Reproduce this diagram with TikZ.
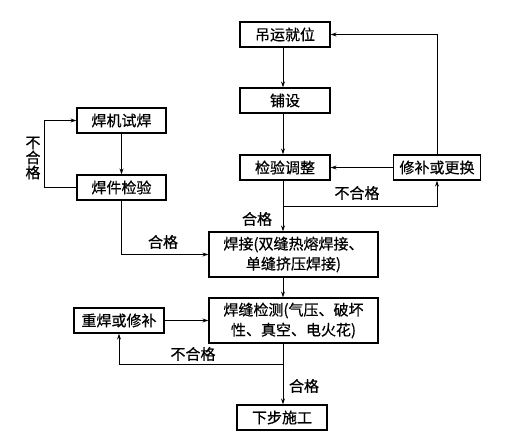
\documentclass[tikz,border=0pt]{standalone}
\usepackage{fontspec}
\setmainfont{Noto Sans CJK SC}[FakeBold=0.6]
\usetikzlibrary{arrows.meta}
\begin{document}
\begin{tikzpicture}[x=1pt,y=-1pt,
  box/.style={draw,line width=1.3pt,inner sep=0pt,minimum height=25pt,font=\fontsize{15}{20}\selectfont},
  tallbox/.style={box,minimum height=45pt,align=center},
  lbl/.style={font=\fontsize{15}{17}\selectfont,inner sep=0pt},
  arr/.style={line width=0.9pt,-{Stealth[length=6pt,width=4pt]}},
  ln/.style={line width=0.9pt}]
\useasboundingbox (0,0) rectangle (510,439);
\coordinate (cx) at (283,0);
\coordinate (lx) at (44,0);
\node[box,minimum width=90pt] (diao) at (285,34.5) {吊运就位};
\node[box,minimum width=90pt] (pu) at (285,100.5) {铺设};
\node[box,minimum width=90pt] (jy) at (285,167.5) {检验调整};
\node[box,minimum width=87pt] (xb) at (437,167.5) {修补或更换};
\node[box,minimum width=89pt] (hjsh) at (121.5,120.5) {焊机试焊};
\node[box,minimum width=89pt] (hjjy) at (121.5,187.5) {焊件检验};
\node[tallbox,minimum width=169pt] (hj) at (293.5,254.5) {焊接(双缝热熔焊接、\\单缝挤压焊接)};
\node[tallbox,minimum width=169pt] (hfjc) at (293.5,320.5) {焊缝检测(气压、破坏\\性、真空、电火花)};
\node[box,minimum width=90pt] (chb) at (119,320.5) {重焊或修补};
\node[box,minimum width=90pt] (xbsg) at (282,417.5) {下步施工};
\coordinate (b1) at (283,206);
\coordinate (b2) at (283,364);
% right column
\draw[arr] (diao.south -| cx) -- (pu.north -| cx);
\draw[arr] (pu.south -| cx) -- (jy.north -| cx);
\draw[arr] (jy.south -| cx) -- (hj.north -| cx);
\draw[arr] (b1) -| (xb.south);
\draw[arr] (xb.west) -- (jy.east);
\draw[arr] (xb.north) |- (diao.east);
% left column
\draw[arr] (hjsh.south) -- (hjjy.north);
\draw[arr] (hjjy.west) -- (hjjy.west -| lx) |- (hjsh.west);
\draw[arr] (hjjy.south) |- (hj.west);
% bottom
\draw[arr] (hj.south -| cx) -- (hfjc.north -| cx);
\draw[arr] (chb.east) -- (hfjc.west);
\draw[arr] (hfjc.south -| cx) -- (xbsg.north -| cx);
\draw[arr] (b2) -| (chb.south);
% labels
\node[lbl,align=center,font=\fontsize{15}{15}\selectfont] (l1) at (33,158) {不\\合\\格};
\node[lbl] (l2) at (357,193) {不合格};
\node[lbl] (l3) at (257,219) {合格};
\node[lbl] (l4) at (163,242) {合格};
\node[lbl] (l5) at (193,354) {不合格};
\node[lbl] (l6) at (304,386) {合格};
\end{tikzpicture}
\end{document}
